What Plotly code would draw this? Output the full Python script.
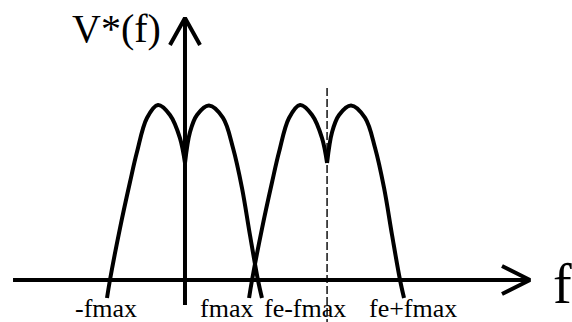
import plotly.graph_objects as go

# Normalised frequencies: fmax = 1, sampling frequency fe
FMAX = 1.0
FE = 1.92

# One baseband lobe on each side of the band centre (offset in units of fmax, amplitude)
LEFT_F = [-1.054, -1.014, -0.878, -0.743, -0.649, -0.514, -0.365, -0.203, -0.068, 0.0]
LEFT_V = [-0.103, 0.0, 0.297, 0.560, 0.731, 0.926, 1.0, 0.943, 0.811, 0.669]
RIGHT_F = [0.0, 0.068, 0.162, 0.324, 0.514, 0.649, 0.770, 0.878, 0.986, 1.04]
RIGHT_V = [0.669, 0.846, 0.943, 0.997, 0.926, 0.754, 0.526, 0.257, 0.0, -0.103]

# Spectrum copies: baseband and the replica around fe
BAND_CENTRES = [0.0, FE]

# Frequency labels under the axis
TICK_LABELS = ["-fmax", "fmax", "fe-fmax", "fe+fmax"]
TICK_LABEL_F = [-1.074, 0.561, 1.622, 3.081]

X_RANGE = [-2.5, 5.23]
Y_RANGE = [-0.24, 1.6]

INK = "#000000"
SERIF = "Liberation Serif, Times New Roman, serif"

fig = go.Figure()

# spectrum lobes
for c in BAND_CENTRES:
    for fs, vs in ((LEFT_F, LEFT_V), (RIGHT_F, RIGHT_V)):
        fig.add_trace(go.Scatter(
            x=[c + FMAX * f for f in fs], y=vs, mode="lines",
            line=dict(color=INK, width=4, shape="spline", smoothing=1.0),
            hoverinfo="skip", showlegend=False,
        ))

# dashed marker at fe
fig.add_trace(go.Scatter(
    x=[FE, FE], y=[1.097, Y_RANGE[0]], mode="lines",
    line=dict(color=INK, width=1.4, dash="8px,3px"),
    hoverinfo="skip", showlegend=False,
))

# frequency axis with open arrowhead
f_lo, f_tip = -2.324, 4.662
fig.add_trace(go.Scatter(
    x=[f_lo, f_tip, None, f_tip - 0.378, f_tip, f_tip - 0.378],
    y=[0, 0, None, 0.08, 0, -0.08], mode="lines",
    line=dict(color=INK, width=4), hoverinfo="skip", showlegend=False,
))

# amplitude axis with open arrowhead
v_lo, v_tip = -0.143, 1.497
fig.add_trace(go.Scatter(
    x=[0, 0, None, -0.203, 0, 0.203],
    y=[v_lo, v_tip, None, v_tip - 0.154, v_tip, v_tip - 0.154], mode="lines",
    line=dict(color=INK, width=4), hoverinfo="skip", showlegend=False,
))

annotations = [
    dict(x=-0.297, y=1.44, text="V*(f)", xanchor="right", yanchor="middle",
         font=dict(family=SERIF, size=40, color=INK)),
    dict(x=4.95, y=-0.02, text="f", xanchor="left", yanchor="middle",
         font=dict(family=SERIF, size=56, color=INK)),
]
for lbl, f in zip(TICK_LABELS, TICK_LABEL_F):
    annotations.append(dict(x=f, y=-0.16, text=lbl, xanchor="center", yanchor="middle",
                            font=dict(family=SERIF, size=26, color=INK)))
for a in annotations:
    a.update(showarrow=False, xref="x", yref="y")

fig.update_layout(
    width=572, height=322,
    margin=dict(l=0, r=0, t=0, b=0),
    paper_bgcolor="white", plot_bgcolor="white",
    xaxis=dict(range=X_RANGE, visible=False, fixedrange=True),
    yaxis=dict(range=Y_RANGE, visible=False, fixedrange=True),
    annotations=annotations,
    showlegend=False,
)

fig.write_html("out.html", config={"displayModeBar": False})
